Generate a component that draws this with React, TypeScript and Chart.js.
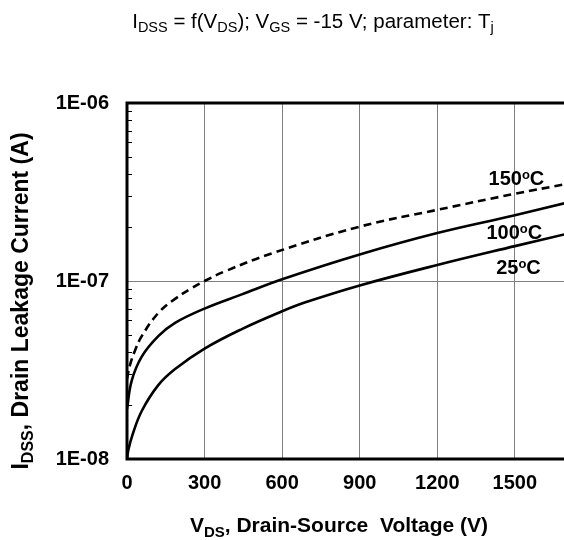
import React, { useEffect, useRef } from "react";
import { Chart, registerables } from "chart.js";

Chart.register(...registerables);

// ---- data ----
const V25 = [0, 5, 20, 57, 121, 186, 300, 444, 600, 690, 900, 1200, 1500, 1700];
const I25 = [1.0e-8, 1.12e-8, 1.35e-8, 1.86e-8, 2.6e-8, 3.2e-8, 4.17e-8, 5.37e-8, 6.76e-8, 7.59e-8, 9.44e-8, 1.23e-7, 1.57e-7, 1.84e-7];

const V100 = [0, 18, 57, 121, 186, 300, 444, 600, 900, 1200, 1500, 1700];
const I100 = [1.91e-8, 2.75e-8, 3.76e-8, 4.9e-8, 5.82e-8, 7.0e-8, 8.41e-8, 1.023e-7, 1.41e-7, 1.86e-7, 2.34e-7, 2.75e-7];

const V150 = [0, 12, 31, 57, 121, 186, 250, 300, 380, 560, 900, 1200, 1500, 1700];
const I150 = [2.82e-8, 3.39e-8, 4.07e-8, 4.9e-8, 6.61e-8, 7.94e-8, 9.12e-8, 1.0e-7, 1.135e-7, 1.429e-7, 2.02e-7, 2.51e-7, 3.09e-7, 3.51e-7];

const xTicks = [0, 300, 600, 900, 1200, 1500];
const yTicks = [1e-8, 1e-7, 1e-6];
const yTickLabels = ["1E-08", "1E-07", "1E-06"];

const curveLabels = ["150", "100", "25"];
const curveLabelV = [1506, 1498, 1514];
const curveLabelI = [3.79e-7, 1.88e-7, 1.2e-7];

const FONT = '"Liberation Sans", Arial, Helvetica, sans-serif';

type Seg = { t: string; sub?: boolean; sup?: boolean };

function drawRich(
  ctx: CanvasRenderingContext2D,
  segs: Seg[],
  cx: number,
  baseY: number,
  weight: string,
  size: number,
  subSize: number,
  subOff: number,
  supOff: number
) {
  const fontFor = (s: Seg) => `${weight} ${s.sub || s.sup ? subSize : size}px ${FONT}`;
  let total = 0;
  const widths = segs.map((s) => {
    ctx.font = fontFor(s);
    const w = ctx.measureText(s.t).width;
    total += w;
    return w;
  });
  let x = cx - total / 2;
  ctx.textAlign = "left";
  ctx.textBaseline = "alphabetic";
  segs.forEach((s, i) => {
    ctx.font = fontFor(s);
    const y = s.sub ? baseY + subOff : s.sup ? baseY - supOff : baseY;
    ctx.fillText(s.t, x, y);
    x += widths[i];
  });
}

const decoPlugin = {
  id: "deco",
  afterDraw(chart: any) {
    const ctx: CanvasRenderingContext2D = chart.ctx;
    const { left, right, top, bottom } = chart.chartArea;
    const ys = chart.scales.y;
    const xs = chart.scales.x;
    ctx.save();
    ctx.fillStyle = "#000";
    ctx.strokeStyle = "#000";

    // minor ticks on y axis (inward)
    ctx.lineWidth = 1;
    for (let d = -8; d < -6; d++) {
      for (let m = 2; m <= 9; m++) {
        const py = Math.round(ys.getPixelForValue(m * Math.pow(10, d))) + 0.5;
        ctx.beginPath();
        ctx.moveTo(left, py);
        ctx.lineTo(left + 5, py);
        ctx.stroke();
      }
    }

    // frame: top, left, bottom
    ctx.lineWidth = 3;
    ctx.beginPath();
    ctx.moveTo(right + 2, top);
    ctx.lineTo(left, top);
    ctx.lineTo(left, bottom);
    ctx.lineTo(right + 2, bottom);
    ctx.stroke();

    // title
    drawRich(
      ctx,
      [
        { t: "I" },
        { t: "DSS", sub: true },
        { t: " = f(V" },
        { t: "DS", sub: true },
        { t: "); V" },
        { t: "GS", sub: true },
        { t: " = -15 V; parameter: T" },
        { t: "j", sub: true },
      ],
      313,
      28,
      "normal",
      20.5,
      14.5,
      4,
      0
    );

    // x axis title
    drawRich(
      ctx,
      [{ t: "V" }, { t: "DS", sub: true }, { t: ", Drain-Source  Voltage (V)" }],
      339,
      532,
      "bold",
      21,
      15,
      5,
      0
    );

    // y axis title
    ctx.save();
    ctx.translate(28, 301);
    ctx.rotate(-Math.PI / 2);
    drawRich(
      ctx,
      [{ t: "I" }, { t: "DSS", sub: true }, { t: ", Drain Leakage Current (A)" }],
      0,
      0,
      "bold",
      23,
      16,
      5,
      0
    );
    ctx.restore();

    // curve labels
    curveLabels.forEach((lab, i) => {
      const px = xs.getPixelForValue(curveLabelV[i]);
      const py = ys.getPixelForValue(curveLabelI[i]);
      drawRich(
        ctx,
        [{ t: lab }, { t: "o", sup: true }, { t: "C" }],
        px,
        py + 7,
        "bold",
        20,
        13,
        0,
        6
      );
    });
    ctx.restore();
  },
};

const toPts = (xs: number[], ys: number[]) => xs.map((x, i) => ({ x, y: ys[i] }));

export default function App() {
  const ref = useRef<HTMLCanvasElement | null>(null);
  useEffect(() => {
    if (!ref.current) return;
    const lineBase = {
      borderColor: "#000",
      borderWidth: 2.6,
      pointRadius: 0,
      fill: false,
      tension: 0.4,
    };
    const chart = new Chart(ref.current, {
      type: "line",
      data: {
        datasets: [
          { ...lineBase, label: "25°C", data: toPts(V25, I25) },
          { ...lineBase, label: "100°C", data: toPts(V100, I100) },
          { ...lineBase, label: "150°C", data: toPts(V150, I150), borderDash: [8, 5] },
        ],
      },
      options: {
        animation: false,
        responsive: true,
        maintainAspectRatio: false,
        layout: { padding: { top: 103, right: 0, left: 0, bottom: 0 } },
        plugins: { legend: { display: false }, tooltip: { enabled: false }, title: { display: false } },
        scales: {
          x: {
            type: "linear",
            min: 0,
            max: 1690,
            afterBuildTicks: (s: any) => {
              s.ticks = xTicks.map((v) => ({ value: v }));
            },
            afterFit: (s: any) => {
              s.height = 81;
            },
            border: { display: false },
            grid: {
              drawTicks: false,
              color: (c: any) => (c.tick && c.tick.value > 0 ? "#808080" : "rgba(0,0,0,0)"),
              lineWidth: 1,
            },
            ticks: {
              padding: 12,
              color: "#000",
              font: { family: FONT, size: 20, weight: "bold" },
              callback: (v: any) => String(v),
              maxRotation: 0,
            },
          },
          y: {
            type: "logarithmic",
            min: 1e-8,
            max: 1e-6,
            afterBuildTicks: (s: any) => {
              s.ticks = yTicks.map((v) => ({ value: v }));
            },
            afterFit: (s: any) => {
              s.width = 127;
            },
            border: { display: false },
            grid: {
              drawTicks: false,
              color: (c: any) =>
                c.tick && Math.abs(c.tick.value - 1e-7) < 1e-12 ? "#808080" : "rgba(0,0,0,0)",
              lineWidth: 1,
            },
            ticks: {
              padding: 18,
              color: "#000",
              font: { family: FONT, size: 20, weight: "bold" },
              callback: (v: any) => {
                const i = yTicks.findIndex((t) => Math.abs(t - Number(v)) < Number(v) * 1e-6);
                return i >= 0 ? yTickLabels[i] : "";
              },
            },
          },
        },
      },
      plugins: [decoPlugin],
    });
    return () => chart.destroy();
  }, []);
  return (
    <div style={{ position: "absolute", left: 0, top: 0, width: 564, height: 540, background: "#fff" }}>
      <canvas ref={ref} />
    </div>
  );
}
